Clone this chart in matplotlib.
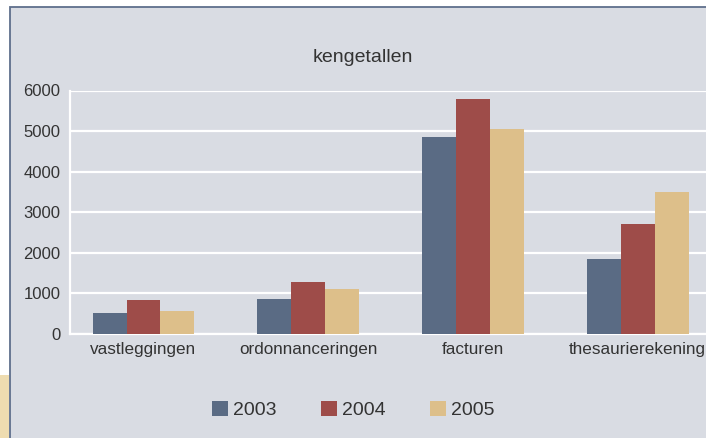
import matplotlib
matplotlib.use('Agg')
import matplotlib.pyplot as plt
from matplotlib.patches import Rectangle
import numpy as np

# data
categories = ['vastleggingen', 'ordonnanceringen', 'facturen', 'thesaurierekening']
years = ['2003', '2004', '2005']
values_2003 = [520, 855, 4850, 1840]
values_2004 = [830, 1270, 5790, 2700]
values_2005 = [560, 1100, 5050, 3490]
yticks = [0, 1000, 2000, 3000, 4000, 5000, 6000]

colours = ['#5A6B84', '#9E4C49', '#DDBF8A']
bg = '#D9DCE3'
text_col = '#333333'

W, H = 706, 438
fig = plt.figure(figsize=(W / 100, H / 100), dpi=100)
fig.patch.set_facecolor('white')

# grey frame around the chart (cropped on the right and bottom)
frame = Rectangle((10 / W, -0.1), 1.2, (H - 7) / H + 0.1, transform=fig.transFigure,
                  facecolor=bg, edgecolor='#5F6F8C', linewidth=1.3, zorder=-2)
fig.patches.append(frame)
# a bit of beige picture peeking in at the bottom left
fig.patches.append(Rectangle((0, 0), 9 / W, 63 / H, transform=fig.transFigure,
                             facecolor='#EEDCB0', edgecolor='none', zorder=-2))

left, right, top, bottom = 70, 706, 90.5, 334
ax = fig.add_axes([left / W, (H - bottom) / H, (right - left) / W, (bottom - top) / H])
ax.set_facecolor(bg)

x = np.arange(len(categories))
w = 0.206
series = [values_2003, values_2004, values_2005]
for i, vals in enumerate(series):
    ax.bar(x + (i - 1) * w, vals, width=w, color=colours[i], label=years[i], zorder=3)

ax.set_xlim(-0.446, 3.415)
ax.set_ylim(0, 6000)
ax.set_yticks(yticks)
ax.set_xticks(x)
ax.set_xticklabels(categories, fontsize=12.3, color=text_col, family='Liberation Sans')
ax.set_yticklabels([str(t) for t in yticks], fontsize=12, color=text_col, family='Liberation Sans')
ax.tick_params(axis='both', length=0)
ax.tick_params(axis='x', pad=5.5)
ax.tick_params(axis='y', pad=7)

ax.yaxis.grid(True, color='white', linewidth=1.6, zorder=1)
ax.set_axisbelow(True)
for s in ['top', 'right']:
    ax.spines[s].set_visible(False)
for s in ['left', 'bottom']:
    ax.spines[s].set_color('white')
    ax.spines[s].set_linewidth(1.6)

fig.text(363 / W, 1 - 57 / H, 'kengetallen', ha='center', va='center',
         fontsize=14, color=text_col, family='Liberation Sans')

handles, labels = ax.get_legend_handles_labels()
fig.legend(handles, labels, loc='center', bbox_to_anchor=(353 / W, 28 / H), ncol=3,
           frameon=False, prop={'family': 'Liberation Sans', 'size': 14},
           handlelength=0.82, handleheight=0.82, handletextpad=0.25,
           columnspacing=2.3, borderpad=0, labelcolor=text_col)

fig.savefig('out.png', dpi=100)
